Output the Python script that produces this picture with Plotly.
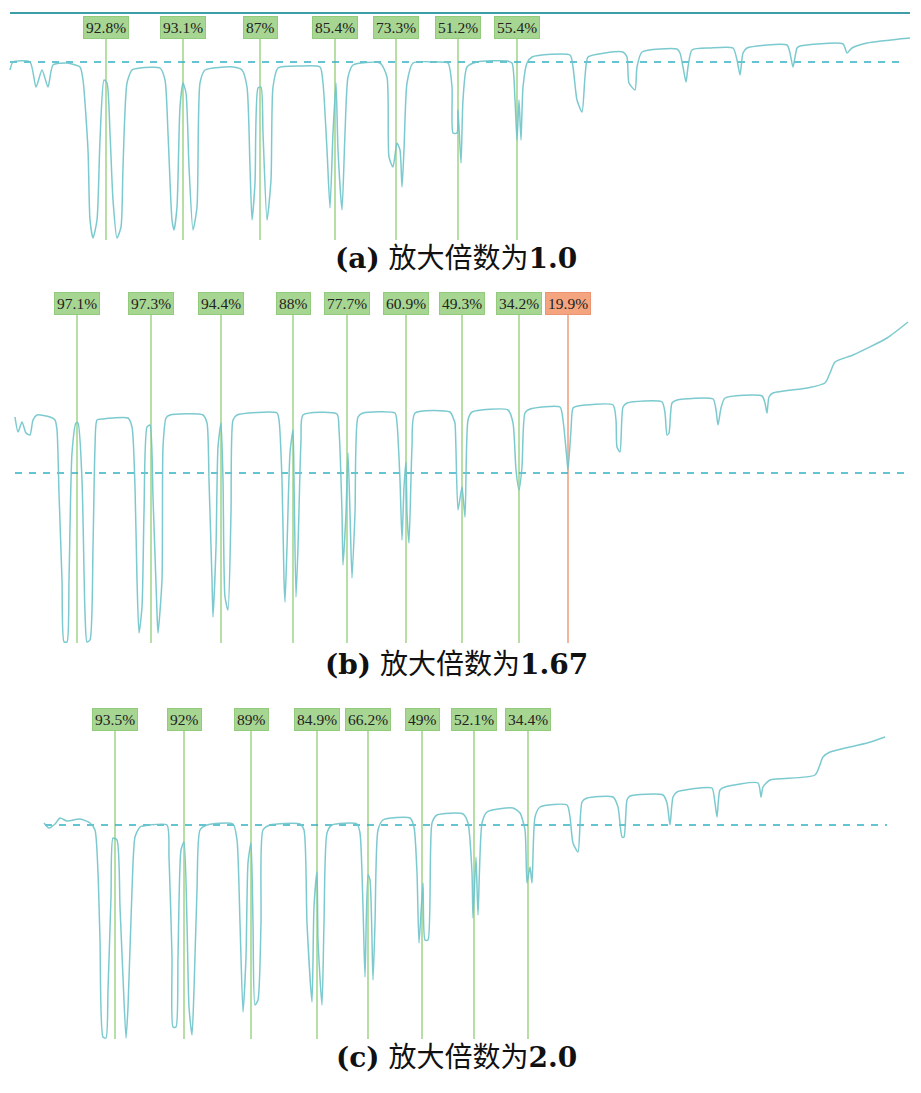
import plotly.graph_objects as go

# ---------------- data ----------------
# panel (a) magnification 1.0
a_x = [10, 13, 30, 36, 42, 48, 53, 67, 80, 83, 88, 90, 93, 97, 100, 104, 107, 110, 113, 117, 121, 123, 127, 132,
       140, 160, 165, 168, 172, 174, 177, 180, 183, 186, 189, 193, 197, 200, 205, 233, 242, 247, 250, 252, 255,
       258, 261, 263, 267, 271, 273, 278, 300, 320, 323, 327, 330, 333, 336, 338, 342, 345, 348, 353, 380, 387,
       389, 393, 397, 400, 402, 404, 407, 413, 437, 448, 452, 453, 457, 458, 461, 463, 467, 477, 507, 512, 515,
       517, 519, 521, 523, 527, 532, 570, 573, 577, 582, 585, 588, 605, 623, 627, 629, 635, 637, 642, 677, 680,
       683, 686, 688, 692, 710, 733, 737, 740, 743, 747, 787, 790, 793, 797, 800, 843, 847, 852, 867, 910]
a_y = [70, 62, 62, 87, 70, 87, 65, 63, 67, 80, 150, 220, 238, 220, 140, 80, 83, 133, 200, 238, 227, 167, 83, 70,
       68, 68, 80, 133, 220, 230, 207, 107, 83, 93, 167, 230, 207, 83, 70, 67, 70, 87, 167, 220, 183,
       88, 87, 133, 220, 180, 87, 68, 66, 67, 83, 150, 208, 133, 83, 150, 210, 133, 77, 65, 63, 77,
       157, 167, 143, 150, 187, 150, 83, 63, 62, 63, 87, 133, 133, 110, 163, 100, 67, 62, 61, 63, 100,
       140, 100, 140, 87, 63, 57, 55, 67, 100, 112, 77, 57, 53, 52, 57, 83, 90, 67, 52, 49, 53,
       67, 82, 67, 50, 48, 48, 60, 75, 53, 48, 45, 53, 67, 48, 46, 44, 53, 48, 43, 38]
a_ref = 62
a_ref_x = [10, 900]
a_top = 13
a_top_x = [10, 910]
a_lines = [106, 183, 260, 335, 396, 458, 517]
a_labels = ["92.8%", "93.1%", "87%", "85.4%", "73.3%", "51.2%", "55.4%"]
a_flag = [0, 0, 0, 0, 0, 0, 0]

# panel (b) magnification 1.67
b_x = [15, 18, 22, 26, 30, 33, 37, 50, 55, 57, 59, 62, 64, 67, 69, 72, 76, 78, 82, 85, 87, 90, 93, 95, 97, 103,
       113, 128, 132, 135, 137, 139, 142, 144, 147, 150, 153, 157, 158, 162, 163, 166, 170, 203, 207, 209, 212,
       213, 216, 218, 221, 223, 225, 228, 231, 233, 237, 277, 279, 282, 284, 285, 287, 290, 293, 294, 296, 298,
       301, 303, 337, 339, 342, 343, 346, 348, 350, 352, 355, 358, 363, 395, 397, 400, 402, 404, 406, 407, 409,
       412, 415, 450, 454, 455, 458, 462, 465, 468, 472, 508, 513, 516, 519, 522, 525, 530, 560, 563, 567, 568,
       571, 573, 578, 613, 616, 617, 620, 623, 627, 662, 665, 667, 669, 672, 677, 713, 716, 718, 721, 725, 762,
       765, 767, 769, 773, 807, 825, 830, 835, 853, 887, 908]
b_y = [417, 432, 422, 433, 435, 420, 415, 417, 420, 430, 493, 580, 642, 642, 580, 453, 423, 423, 480, 613, 642,
       640, 547, 447, 420, 419, 418, 418, 427, 487, 580, 633, 607, 513, 427, 425, 497, 613, 633, 580, 447, 418,
       415, 415, 423, 480, 580, 617, 547, 447, 423, 480, 597, 610, 513, 420, 415, 413, 420, 480, 580, 602, 547,
       453, 430, 480, 597, 547, 440, 415, 414, 430, 513, 565, 513, 453, 513, 578, 513, 417, 413, 413, 423, 480,
       540, 487, 462, 513, 543, 447, 413, 412, 420, 423, 510, 487, 517, 420, 412, 410, 423, 470, 490, 467, 413,
       409, 407, 420, 460, 470, 430, 408, 406, 405, 420, 447, 452, 407, 403, 402, 413, 435, 433, 403, 400, 399,
       410, 425, 408, 398, 396, 403, 413, 397, 393, 388, 383, 373, 362, 355, 338, 322]
b_ref = 473
b_ref_x = [15, 910]
b_lines = [77, 151, 221, 293, 347, 406, 462, 519, 568]
b_labels = ["97.1%", "97.3%", "94.4%", "88%", "77.7%", "60.9%", "49.3%", "34.2%", "19.9%"]
b_flag = [0, 0, 0, 0, 0, 0, 0, 0, 1]

# panel (c) magnification 2.0
c_x = [44, 49, 55, 60, 67, 80, 90, 95, 98, 100, 103, 106, 108, 111, 113, 117, 120, 123, 126, 128, 132, 135, 140,
       150, 167, 169, 172, 173, 176, 178, 181, 184, 187, 189, 192, 194, 197, 200, 207, 233, 237, 240, 243, 246,
       248, 251, 253, 255, 258, 261, 263, 270, 300, 304, 307, 312, 314, 317, 318, 322, 324, 327, 332, 357, 360,
       363, 365, 368, 370, 373, 375, 378, 383, 410, 414, 417, 419, 423, 425, 428, 432, 437, 463, 468, 472, 473,
       476, 478, 482, 487, 513, 520, 525, 527, 530, 532, 535, 540, 567, 570, 573, 578, 582, 587, 613, 618, 622,
       624, 627, 630, 663, 667, 670, 673, 677, 700, 712, 715, 717, 720, 725, 758, 761, 763, 770, 815, 823, 830,
       867, 885]
c_y = [823, 828, 824, 818, 821, 819, 823, 830, 873, 940, 1037, 1038, 990, 897, 838, 840, 907, 977, 1038, 1007,
       890, 837, 827, 825, 825, 857, 957, 1027, 1027, 957, 850, 842, 923, 1007, 1035, 990, 890, 830, 825, 824,
       840, 923, 1012, 957, 863, 843, 923, 1005, 1000, 923, 830, 825, 824, 830, 923, 1002, 907, 872, 940, 1005,
       923, 833, 825, 824, 833, 907, 977, 875, 880, 980, 923, 830, 820, 818, 827, 873, 943, 883, 940, 940, 823,
       815, 814, 823, 873, 918, 857, 915, 823, 812, 808, 813, 830, 883, 867, 883, 817, 807, 805, 817, 843, 852,
       802, 798, 797, 807, 837, 837, 800, 796, 795, 803, 825, 797, 792, 788, 788, 803, 817, 790, 787, 783, 797,
       787, 780, 775, 757, 752, 743, 737]
c_ref = 825
c_ref_x = [45, 887]
c_lines = [115, 184, 251, 317, 368, 422, 474, 528]
c_labels = ["93.5%", "92%", "89%", "84.9%", "66.2%", "49%", "52.1%", "34.4%"]
c_flag = [0, 0, 0, 0, 0, 0, 0, 0]

panels = [
    dict(x=a_x, y=a_y, ref=a_ref, ref_x=a_ref_x, lines=a_lines, labels=a_labels, flag=a_flag,
         label_top=16, line_bottom=240, caption="<b>(a)</b> 放大倍数为<b>1.0</b>", cap_y=258),
    dict(x=b_x, y=b_y, ref=b_ref, ref_x=b_ref_x, lines=b_lines, labels=b_labels, flag=b_flag,
         label_top=292, line_bottom=643, caption="<b>(b)</b> 放大倍数为<b>1.67</b>", cap_y=664),
    dict(x=c_x, y=c_y, ref=c_ref, ref_x=c_ref_x, lines=c_lines, labels=c_labels, flag=c_flag,
         label_top=708, line_bottom=1039, caption="<b>(c)</b> 放大倍数为<b>2.0</b>", cap_y=1057),
]

CURVE = "rgba(110,196,202,0.9)"
DASH = "#33b1c2"
GREEN_LINE = "#a6d68e"
GREEN_FILL = "#a7d592"
GREEN_EDGE = "#93cb7c"
ORANGE_LINE = "#f2a285"
ORANGE_FILL = "#f4a47f"
ORANGE_EDGE = "#ec9472"

fig = go.Figure()
annotations = []

# top solid line of panel (a)
fig.add_trace(go.Scatter(x=a_top_x, y=[a_top, a_top], mode="lines",
                         line=dict(color="#3d9ea7", width=2), hoverinfo="skip"))

for p in panels:
    box_h = 19
    line_top = p["label_top"] + box_h
    # marker lines
    for lx, lab, fl in zip(p["lines"], p["labels"], p["flag"]):
        col = ORANGE_LINE if fl else GREEN_LINE
        fig.add_trace(go.Scatter(x=[lx, lx], y=[line_top, p["line_bottom"]], mode="lines",
                                 line=dict(color=col, width=1.6), hoverinfo="skip"))
        annotations.append(dict(
            x=lx, y=p["label_top"], xref="x", yref="y", xanchor="center", yanchor="top",
            text=lab, showarrow=False,
            font=dict(family="Liberation Serif, DejaVu Serif, serif", size=15.5, color="#222222"),
            bgcolor=ORANGE_FILL if fl else GREEN_FILL,
            bordercolor=ORANGE_EDGE if fl else GREEN_EDGE, borderwidth=1, borderpad=2,
        ))
    # reference dashed line
    fig.add_trace(go.Scatter(x=p["ref_x"], y=[p["ref"], p["ref"]], mode="lines",
                             line=dict(color=DASH, width=1.6, dash="7px,7px"), hoverinfo="skip"))
    # signal curve
    fig.add_trace(go.Scatter(x=p["x"], y=p["y"], mode="lines",
                             line=dict(color=CURVE, width=1.5, shape="spline", smoothing=0.6),
                             hoverinfo="skip"))
    annotations.append(dict(
        x=456, y=p["cap_y"], xref="x", yref="y", xanchor="center", yanchor="middle",
        text=p["caption"], showarrow=False,
        font=dict(family="DejaVu Serif, Noto Sans CJK SC, serif", size=28, color="#111111"),
    ))

fig.update_layout(
    width=921, height=1093,
    margin=dict(l=0, r=0, t=0, b=0),
    paper_bgcolor="white", plot_bgcolor="white",
    showlegend=False,
    xaxis=dict(range=[0, 921], visible=False, fixedrange=True),
    yaxis=dict(range=[1093, 0], visible=False, fixedrange=True),
    annotations=annotations,
)

fig.write_html("out.html", config={"displayModeBar": False},
               post_script="document.body.style.margin='0';document.body.style.overflow='hidden';")
